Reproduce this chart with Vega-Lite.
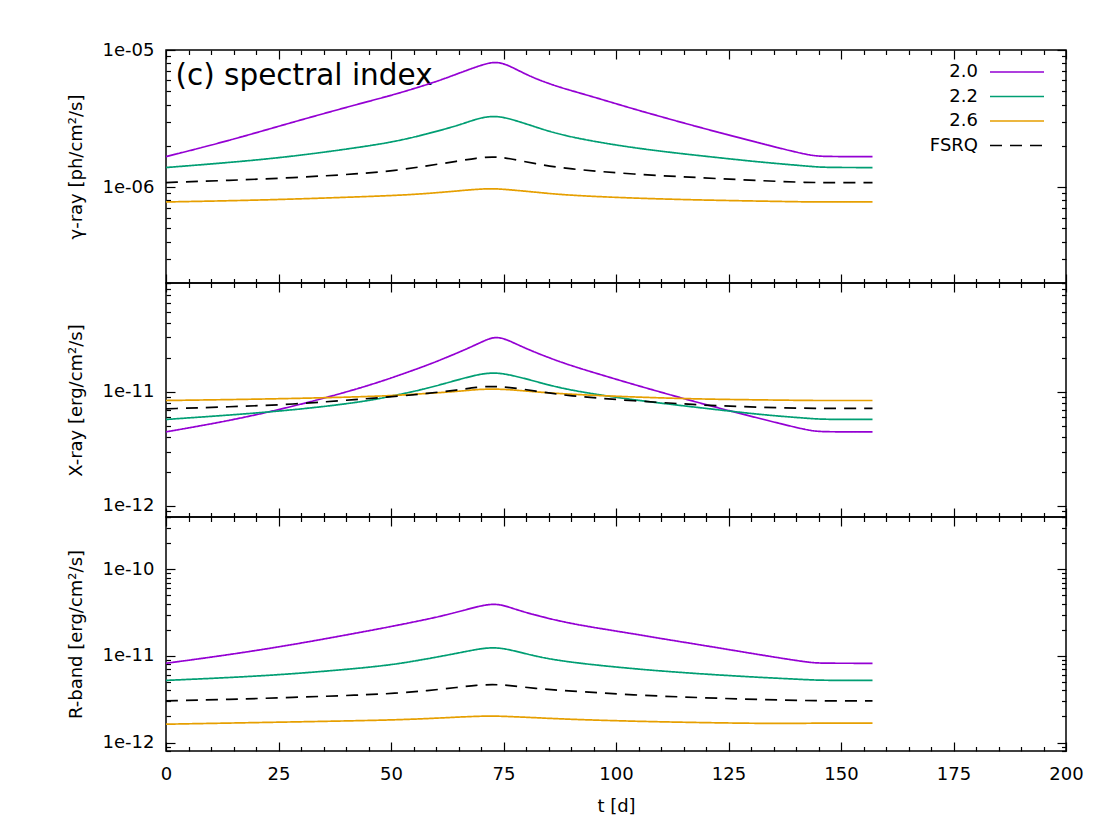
{
  "$schema": "https://vega.github.io/schema/vega-lite/v6.json",
  "background": "white",
  "padding": {"left": 66, "top": 40, "right": 10, "bottom": 10},
  "spacing": 0,
  "bounds": "flush",
  "config": {
    "font": "DejaVu Sans",
    "view": {"stroke": "black", "strokeWidth": 1.5},
    "axis": {
      "domain": false, "grid": false,
      "labelFont": "DejaVu Sans", "labelFontSize": 18, "labelColor": "black",
      "titleFont": "DejaVu Sans", "titleFontSize": 18, "titleFontWeight": "normal", "titleColor": "black",
      "tickColor": "black", "tickWidth": 1.2, "labelFlush": false, "labelOverlap": false
    },
    "legend": {
      "title": null, "orient": "none", "legendX": 841, "legendY": 12, "padding": 0,
      "labelFont": "DejaVu Sans", "labelFontSize": 18, "labelColor": "black",
      "labelAlign": "right", "labelOffset": -49, "symbolType": "M-3,0H3", "symbolSize": 324,
      "symbolStrokeWidth": 1.7, "rowPadding": 5.5
    }
  },
  "datasets": {
    "gamma": [
      {"t": 0, "s": "2.0", "v": 1.67e-6}, {"t": 14, "s": "2.0", "v": 2.18e-6}, {"t": 28, "s": "2.0", "v": 2.97e-6},
      {"t": 43, "s": "2.0", "v": 4.06e-6}, {"t": 51, "s": "2.0", "v": 4.75e-6}, {"t": 58.7, "s": "2.0", "v": 5.69e-6},
      {"t": 62, "s": "2.0", "v": 6.2e-6}, {"t": 66, "s": "2.0", "v": 6.95e-6}, {"t": 70, "s": "2.0", "v": 7.75e-6},
      {"t": 72.7, "s": "2.0", "v": 8.2e-6}, {"t": 75, "s": "2.0", "v": 8.0e-6}, {"t": 77.2, "s": "2.0", "v": 7.4e-6},
      {"t": 81, "s": "2.0", "v": 6.4e-6}, {"t": 85, "s": "2.0", "v": 5.7e-6}, {"t": 88.3, "s": "2.0", "v": 5.25e-6},
      {"t": 96, "s": "2.0", "v": 4.45e-6}, {"t": 104, "s": "2.0", "v": 3.7e-6}, {"t": 119, "s": "2.0", "v": 2.7e-6},
      {"t": 133, "s": "2.0", "v": 2.05e-6}, {"t": 143, "s": "2.0", "v": 1.7e-6}, {"t": 146, "s": "2.0", "v": 1.67e-6},
      {"t": 157, "s": "2.0", "v": 1.67e-6},
      {"t": 0, "s": "2.2", "v": 1.39e-6}, {"t": 14, "s": "2.2", "v": 1.51e-6}, {"t": 28, "s": "2.2", "v": 1.67e-6},
      {"t": 43, "s": "2.2", "v": 1.95e-6}, {"t": 51, "s": "2.2", "v": 2.15e-6}, {"t": 58, "s": "2.2", "v": 2.44e-6},
      {"t": 65, "s": "2.2", "v": 2.82e-6}, {"t": 69, "s": "2.2", "v": 3.15e-6}, {"t": 72.5, "s": "2.2", "v": 3.32e-6},
      {"t": 76, "s": "2.2", "v": 3.2e-6}, {"t": 82, "s": "2.2", "v": 2.75e-6}, {"t": 89, "s": "2.2", "v": 2.33e-6},
      {"t": 104, "s": "2.2", "v": 1.92e-6}, {"t": 119, "s": "2.2", "v": 1.69e-6}, {"t": 133, "s": "2.2", "v": 1.51e-6},
      {"t": 143, "s": "2.2", "v": 1.42e-6}, {"t": 146, "s": "2.2", "v": 1.39e-6}, {"t": 157, "s": "2.2", "v": 1.39e-6},
      {"t": 0, "s": "2.6", "v": 7.8e-7}, {"t": 14, "s": "2.6", "v": 7.95e-7}, {"t": 28, "s": "2.6", "v": 8.17e-7},
      {"t": 43, "s": "2.6", "v": 8.5e-7}, {"t": 51, "s": "2.6", "v": 8.7e-7}, {"t": 58, "s": "2.6", "v": 8.97e-7},
      {"t": 65, "s": "2.6", "v": 9.4e-7}, {"t": 69, "s": "2.6", "v": 9.65e-7}, {"t": 72.5, "s": "2.6", "v": 9.77e-7},
      {"t": 76, "s": "2.6", "v": 9.6e-7}, {"t": 82, "s": "2.6", "v": 9.2e-7}, {"t": 89, "s": "2.6", "v": 8.73e-7},
      {"t": 104, "s": "2.6", "v": 8.3e-7}, {"t": 119, "s": "2.6", "v": 8.05e-7}, {"t": 133, "s": "2.6", "v": 7.9e-7},
      {"t": 143, "s": "2.6", "v": 7.8e-7}, {"t": 146, "s": "2.6", "v": 7.8e-7}, {"t": 157, "s": "2.6", "v": 7.8e-7},
      {"t": 0, "s": "FSRQ", "v": 1.08e-6}, {"t": 14, "s": "FSRQ", "v": 1.12e-6}, {"t": 28, "s": "FSRQ", "v": 1.17e-6},
      {"t": 43, "s": "FSRQ", "v": 1.25e-6}, {"t": 51, "s": "FSRQ", "v": 1.32e-6}, {"t": 58, "s": "FSRQ", "v": 1.43e-6},
      {"t": 65, "s": "FSRQ", "v": 1.55e-6}, {"t": 69, "s": "FSRQ", "v": 1.63e-6}, {"t": 72.5, "s": "FSRQ", "v": 1.67e-6},
      {"t": 76, "s": "FSRQ", "v": 1.63e-6}, {"t": 82, "s": "FSRQ", "v": 1.48e-6}, {"t": 89, "s": "FSRQ", "v": 1.36e-6},
      {"t": 104, "s": "FSRQ", "v": 1.24e-6}, {"t": 119, "s": "FSRQ", "v": 1.17e-6}, {"t": 133, "s": "FSRQ", "v": 1.11e-6},
      {"t": 143, "s": "FSRQ", "v": 1.08e-6}, {"t": 146, "s": "FSRQ", "v": 1.08e-6}, {"t": 157, "s": "FSRQ", "v": 1.08e-6}
    ],
    "xray": [
      {"t": 0, "s": "2.0", "v": 4.46e-12}, {"t": 14, "s": "2.0", "v": 5.57e-12}, {"t": 28, "s": "2.0", "v": 7.38e-12},
      {"t": 43, "s": "2.0", "v": 1.07e-11}, {"t": 51, "s": "2.0", "v": 1.36e-11}, {"t": 58.7, "s": "2.0", "v": 1.75e-11},
      {"t": 62, "s": "2.0", "v": 1.98e-11}, {"t": 66, "s": "2.0", "v": 2.3e-11}, {"t": 70, "s": "2.0", "v": 2.72e-11},
      {"t": 72.7, "s": "2.0", "v": 3.04e-11}, {"t": 75, "s": "2.0", "v": 2.95e-11}, {"t": 77.2, "s": "2.0", "v": 2.7e-11},
      {"t": 81, "s": "2.0", "v": 2.3e-11}, {"t": 88.3, "s": "2.0", "v": 1.78e-11}, {"t": 95.7, "s": "2.0", "v": 1.45e-11},
      {"t": 103.3, "s": "2.0", "v": 1.18e-11}, {"t": 110.5, "s": "2.0", "v": 9.8e-12}, {"t": 118, "s": "2.0", "v": 8.1e-12},
      {"t": 126, "s": "2.0", "v": 6.7e-12}, {"t": 133, "s": "2.0", "v": 5.7e-12}, {"t": 143, "s": "2.0", "v": 4.55e-12},
      {"t": 146, "s": "2.0", "v": 4.46e-12}, {"t": 157, "s": "2.0", "v": 4.46e-12},
      {"t": 0, "s": "2.2", "v": 5.73e-12}, {"t": 14, "s": "2.2", "v": 6.25e-12}, {"t": 28, "s": "2.2", "v": 6.91e-12},
      {"t": 43, "s": "2.2", "v": 8.07e-12}, {"t": 51, "s": "2.2", "v": 9.3e-12}, {"t": 58, "s": "2.2", "v": 1.07e-11},
      {"t": 65, "s": "2.2", "v": 1.28e-11}, {"t": 69, "s": "2.2", "v": 1.41e-11}, {"t": 72.5, "s": "2.2", "v": 1.48e-11},
      {"t": 76, "s": "2.2", "v": 1.43e-11}, {"t": 82, "s": "2.2", "v": 1.24e-11}, {"t": 89, "s": "2.2", "v": 1.04e-11},
      {"t": 104, "s": "2.2", "v": 8.46e-12}, {"t": 119, "s": "2.2", "v": 7.24e-12}, {"t": 133, "s": "2.2", "v": 6.25e-12},
      {"t": 143, "s": "2.2", "v": 5.85e-12}, {"t": 146, "s": "2.2", "v": 5.73e-12}, {"t": 157, "s": "2.2", "v": 5.73e-12},
      {"t": 0, "s": "2.6", "v": 8.4e-12}, {"t": 14, "s": "2.6", "v": 8.55e-12}, {"t": 28, "s": "2.6", "v": 8.74e-12},
      {"t": 43, "s": "2.6", "v": 9.04e-12}, {"t": 51, "s": "2.6", "v": 9.3e-12}, {"t": 58, "s": "2.6", "v": 9.68e-12},
      {"t": 65, "s": "2.6", "v": 1.01e-11}, {"t": 69, "s": "2.6", "v": 1.05e-11}, {"t": 72.5, "s": "2.6", "v": 1.06e-11},
      {"t": 76, "s": "2.6", "v": 1.05e-11}, {"t": 82, "s": "2.6", "v": 1.0e-11}, {"t": 89, "s": "2.6", "v": 9.55e-12},
      {"t": 104, "s": "2.6", "v": 9.0e-12}, {"t": 119, "s": "2.6", "v": 8.63e-12}, {"t": 133, "s": "2.6", "v": 8.5e-12},
      {"t": 143, "s": "2.6", "v": 8.4e-12}, {"t": 146, "s": "2.6", "v": 8.4e-12}, {"t": 157, "s": "2.6", "v": 8.4e-12},
      {"t": 0, "s": "FSRQ", "v": 7.1e-12}, {"t": 14, "s": "FSRQ", "v": 7.4e-12}, {"t": 28, "s": "FSRQ", "v": 7.75e-12},
      {"t": 43, "s": "FSRQ", "v": 8.63e-12}, {"t": 51, "s": "FSRQ", "v": 9.1e-12}, {"t": 58, "s": "FSRQ", "v": 9.68e-12},
      {"t": 65, "s": "FSRQ", "v": 1.04e-11}, {"t": 69, "s": "FSRQ", "v": 1.1e-11}, {"t": 72.5, "s": "FSRQ", "v": 1.12e-11},
      {"t": 76, "s": "FSRQ", "v": 1.1e-11}, {"t": 82, "s": "FSRQ", "v": 1.02e-11}, {"t": 89, "s": "FSRQ", "v": 9.23e-12},
      {"t": 104, "s": "FSRQ", "v": 8.34e-12}, {"t": 119, "s": "FSRQ", "v": 7.64e-12}, {"t": 133, "s": "FSRQ", "v": 7.3e-12},
      {"t": 143, "s": "FSRQ", "v": 7.17e-12}, {"t": 146, "s": "FSRQ", "v": 7.17e-12}, {"t": 157, "s": "FSRQ", "v": 7.17e-12}
    ],
    "rband": [
      {"t": 0, "s": "2.0", "v": 8.22e-12}, {"t": 14, "s": "2.0", "v": 1.03e-11}, {"t": 28, "s": "2.0", "v": 1.34e-11},
      {"t": 43, "s": "2.0", "v": 1.86e-11}, {"t": 51, "s": "2.0", "v": 2.23e-11}, {"t": 58.7, "s": "2.0", "v": 2.69e-11},
      {"t": 62, "s": "2.0", "v": 2.95e-11}, {"t": 66, "s": "2.0", "v": 3.33e-11}, {"t": 70, "s": "2.0", "v": 3.8e-11},
      {"t": 72.7, "s": "2.0", "v": 3.98e-11}, {"t": 75, "s": "2.0", "v": 3.84e-11}, {"t": 77.2, "s": "2.0", "v": 3.51e-11},
      {"t": 81, "s": "2.0", "v": 3.05e-11}, {"t": 88.3, "s": "2.0", "v": 2.45e-11}, {"t": 95.7, "s": "2.0", "v": 2.1e-11},
      {"t": 103.5, "s": "2.0", "v": 1.81e-11}, {"t": 110.5, "s": "2.0", "v": 1.57e-11}, {"t": 118, "s": "2.0", "v": 1.36e-11},
      {"t": 126, "s": "2.0", "v": 1.16e-11}, {"t": 133, "s": "2.0", "v": 1.01e-11}, {"t": 143, "s": "2.0", "v": 8.35e-12},
      {"t": 146, "s": "2.0", "v": 8.22e-12}, {"t": 157, "s": "2.0", "v": 8.22e-12},
      {"t": 0, "s": "2.2", "v": 5.22e-12}, {"t": 14, "s": "2.2", "v": 5.61e-12}, {"t": 28, "s": "2.2", "v": 6.18e-12},
      {"t": 43, "s": "2.2", "v": 7.19e-12}, {"t": 51, "s": "2.2", "v": 8.0e-12}, {"t": 58, "s": "2.2", "v": 9.23e-12},
      {"t": 65, "s": "2.2", "v": 1.08e-11}, {"t": 69, "s": "2.2", "v": 1.19e-11}, {"t": 72.5, "s": "2.2", "v": 1.26e-11},
      {"t": 76, "s": "2.2", "v": 1.2e-11}, {"t": 82, "s": "2.2", "v": 9.9e-12}, {"t": 89, "s": "2.2", "v": 8.5e-12},
      {"t": 104, "s": "2.2", "v": 7.06e-12}, {"t": 119, "s": "2.2", "v": 6.18e-12}, {"t": 133, "s": "2.2", "v": 5.61e-12},
      {"t": 143, "s": "2.2", "v": 5.3e-12}, {"t": 146, "s": "2.2", "v": 5.22e-12}, {"t": 157, "s": "2.2", "v": 5.22e-12},
      {"t": 0, "s": "2.6", "v": 1.63e-12}, {"t": 14, "s": "2.6", "v": 1.68e-12}, {"t": 28, "s": "2.6", "v": 1.73e-12},
      {"t": 43, "s": "2.6", "v": 1.79e-12}, {"t": 51, "s": "2.6", "v": 1.83e-12}, {"t": 58, "s": "2.6", "v": 1.89e-12},
      {"t": 65, "s": "2.6", "v": 1.97e-12}, {"t": 69, "s": "2.6", "v": 2.01e-12}, {"t": 72.5, "s": "2.6", "v": 2.03e-12},
      {"t": 76, "s": "2.6", "v": 2.0e-12}, {"t": 82, "s": "2.6", "v": 1.94e-12}, {"t": 89, "s": "2.6", "v": 1.86e-12},
      {"t": 104, "s": "2.6", "v": 1.76e-12}, {"t": 119, "s": "2.6", "v": 1.7e-12}, {"t": 133, "s": "2.6", "v": 1.66e-12},
      {"t": 143, "s": "2.6", "v": 1.67e-12}, {"t": 146, "s": "2.6", "v": 1.68e-12}, {"t": 157, "s": "2.6", "v": 1.68e-12},
      {"t": 0, "s": "FSRQ", "v": 3.03e-12}, {"t": 14, "s": "FSRQ", "v": 3.15e-12}, {"t": 28, "s": "FSRQ", "v": 3.32e-12},
      {"t": 43, "s": "FSRQ", "v": 3.53e-12}, {"t": 51, "s": "FSRQ", "v": 3.7e-12}, {"t": 58, "s": "FSRQ", "v": 3.96e-12},
      {"t": 65, "s": "FSRQ", "v": 4.35e-12}, {"t": 69, "s": "FSRQ", "v": 4.6e-12}, {"t": 72.5, "s": "FSRQ", "v": 4.69e-12},
      {"t": 76, "s": "FSRQ", "v": 4.6e-12}, {"t": 82, "s": "FSRQ", "v": 4.2e-12}, {"t": 89, "s": "FSRQ", "v": 3.96e-12},
      {"t": 104, "s": "FSRQ", "v": 3.53e-12}, {"t": 119, "s": "FSRQ", "v": 3.29e-12}, {"t": 133, "s": "FSRQ", "v": 3.12e-12},
      {"t": 143, "s": "FSRQ", "v": 3.05e-12}, {"t": 146, "s": "FSRQ", "v": 3.03e-12}, {"t": 157, "s": "FSRQ", "v": 3.03e-12}
    ]
  },
  "vconcat": [
    {
      "width": 900, "height": 233,
      "data": {"name": "gamma"},
      "layer": [
        {
          "mark": {"type": "line", "strokeWidth": 1.7, "interpolate": "basis"},
          "encoding": {
            "x": {"field": "t", "type": "quantitative", "scale": {"domain": [0, 200], "nice": false},
              "axis": {"orient": "bottom", "values": [0,5,10,15,20,25,30,35,40,45,50,55,60,65,70,75,80,85,90,95,100,105,110,115,120,125,130,135,140,145,150,155,160,165,170,175,180,185,190,195,200], "labels": false, "title": null,
                "tickSize": {"condition": {"test": "datum.value % 25 === 0", "value": -9}, "value": -4.5}}},
            "y": {"field": "v", "type": "quantitative", "scale": {"type": "log", "domain": [2e-7, 1e-5], "nice": false},
              "axis": {"orient": "left", "title": "γ-ray [ph/cm²/s]", "titlePadding": 17, "labelPadding": 21,
                "values": [2e-7,3e-7,4e-7,5e-7,6e-7,7e-7,8e-7,9e-7,1e-6,2e-6,3e-6,4e-6,5e-6,6e-6,7e-6,8e-6,9e-6,1e-5],
                "labelExpr": "datum.value === 1e-5 ? '1e-05' : datum.value === 1e-6 ? '1e-06' : ''",
                "tickSize": {"condition": {"test": "datum.value === 1e-6 || datum.value === 1e-5", "value": -9}, "value": -4.5}}},
            "color": {"field": "s", "type": "nominal", "scale": {"domain": ["2.0", "2.2", "2.6", "FSRQ"], "range": ["#9400d3", "#009e73", "#e69f00", "#000000"]}},
            "strokeDash": {"field": "s", "type": "nominal", "scale": {"domain": ["2.0", "2.2", "2.6", "FSRQ"], "range": [[1, 0], [1, 0], [1, 0], [12, 8]]}}
          }
        },
        {
          "mark": {"type": "point", "opacity": 0},
          "encoding": {
            "x": {"field": "t", "type": "quantitative", "scale": {"domain": [0, 200], "nice": false},
              "axis": {"orient": "top", "values": [0,5,10,15,20,25,30,35,40,45,50,55,60,65,70,75,80,85,90,95,100,105,110,115,120,125,130,135,140,145,150,155,160,165,170,175,180,185,190,195,200], "labels": false,
                "title": "(c) spectral index", "titleAnchor": "start", "titleAlign": "left", "titleBaseline": "alphabetic",
                "titleX": 9, "titleY": 34, "titleFontSize": 29.5,
                "tickSize": {"condition": {"test": "datum.value % 25 === 0", "value": -9}, "value": -4.5}}},
            "y": {"field": "v", "type": "quantitative", "scale": {"type": "log", "domain": [2e-7, 1e-5], "nice": false},
              "axis": {"orient": "right", "labels": false, "title": null,
                "values": [2e-7,3e-7,4e-7,5e-7,6e-7,7e-7,8e-7,9e-7,1e-6,2e-6,3e-6,4e-6,5e-6,6e-6,7e-6,8e-6,9e-6,1e-5],
                "tickSize": {"condition": {"test": "datum.value === 1e-6 || datum.value === 1e-5", "value": -9}, "value": -4.5}}}
          }
        }
      ],
      "resolve": {"axis": {"x": "independent", "y": "independent"}}
    },
    {
      "width": 900, "height": 234,
      "data": {"name": "xray"},
      "layer": [
        {
          "mark": {"type": "line", "strokeWidth": 1.7, "interpolate": "basis"},
          "encoding": {
            "x": {"field": "t", "type": "quantitative", "scale": {"domain": [0, 200], "nice": false},
              "axis": {"orient": "bottom", "values": [0,5,10,15,20,25,30,35,40,45,50,55,60,65,70,75,80,85,90,95,100,105,110,115,120,125,130,135,140,145,150,155,160,165,170,175,180,185,190,195,200], "labels": false, "title": null,
                "tickSize": {"condition": {"test": "datum.value % 25 === 0", "value": -9}, "value": -4.5}}},
            "y": {"field": "v", "type": "quantitative", "scale": {"type": "log", "domain": [8e-13, 9e-11], "nice": false},
              "axis": {"orient": "left", "title": "X-ray [erg/cm²/s]", "titlePadding": 17, "labelPadding": 21,
                "values": [8e-13,9e-13,1e-12,2e-12,3e-12,4e-12,5e-12,6e-12,7e-12,8e-12,9e-12,1e-11,2e-11,3e-11,4e-11,5e-11,6e-11,7e-11,8e-11,9e-11],
                "labelExpr": "datum.value === 1e-11 ? '1e-11' : datum.value === 1e-12 ? '1e-12' : ''",
                "tickSize": {"condition": {"test": "datum.value === 1e-11 || datum.value === 1e-12", "value": -9}, "value": -4.5}}},
            "color": {"field": "s", "type": "nominal", "legend": null, "scale": {"domain": ["2.0", "2.2", "2.6", "FSRQ"], "range": ["#9400d3", "#009e73", "#e69f00", "#000000"]}},
            "strokeDash": {"field": "s", "type": "nominal", "legend": null, "scale": {"domain": ["2.0", "2.2", "2.6", "FSRQ"], "range": [[1, 0], [1, 0], [1, 0], [12, 8]]}}
          }
        },
        {
          "mark": {"type": "point", "opacity": 0},
          "encoding": {
            "x": {"field": "t", "type": "quantitative", "scale": {"domain": [0, 200], "nice": false},
              "axis": {"orient": "top", "values": [0,5,10,15,20,25,30,35,40,45,50,55,60,65,70,75,80,85,90,95,100,105,110,115,120,125,130,135,140,145,150,155,160,165,170,175,180,185,190,195,200], "labels": false, "title": null,
                "tickSize": {"condition": {"test": "datum.value % 25 === 0", "value": -9}, "value": -4.5}}},
            "y": {"field": "v", "type": "quantitative", "scale": {"type": "log", "domain": [8e-13, 9e-11], "nice": false},
              "axis": {"orient": "right", "labels": false, "title": null,
                "values": [8e-13,9e-13,1e-12,2e-12,3e-12,4e-12,5e-12,6e-12,7e-12,8e-12,9e-12,1e-11,2e-11,3e-11,4e-11,5e-11,6e-11,7e-11,8e-11,9e-11],
                "tickSize": {"condition": {"test": "datum.value === 1e-11 || datum.value === 1e-12", "value": -9}, "value": -4.5}}}
          }
        }
      ],
      "resolve": {"axis": {"x": "independent", "y": "independent"}}
    },
    {
      "width": 900, "height": 234,
      "data": {"name": "rband"},
      "layer": [
        {
          "mark": {"type": "line", "strokeWidth": 1.7, "interpolate": "basis"},
          "encoding": {
            "x": {"field": "t", "type": "quantitative", "scale": {"domain": [0, 200], "nice": false},
              "axis": {"orient": "bottom", "values": [0,5,10,15,20,25,30,35,40,45,50,55,60,65,70,75,80,85,90,95,100,105,110,115,120,125,130,135,140,145,150,155,160,165,170,175,180,185,190,195,200], "title": "t [d]", "titlePadding": 10, "labelPadding": 23,
                "labelExpr": "datum.value % 25 === 0 ? datum.label : ''",
                "tickSize": {"condition": {"test": "datum.value % 25 === 0", "value": -9}, "value": -4.5}}},
            "y": {"field": "v", "type": "quantitative", "scale": {"type": "log", "domain": [8e-13, 4e-10], "nice": false},
              "axis": {"orient": "left", "title": "R-band [erg/cm²/s]", "titlePadding": 17, "labelPadding": 21,
                "values": [8e-13,9e-13,1e-12,2e-12,3e-12,4e-12,5e-12,6e-12,7e-12,8e-12,9e-12,1e-11,2e-11,3e-11,4e-11,5e-11,6e-11,7e-11,8e-11,9e-11,1e-10,2e-10,3e-10,4e-10],
                "labelExpr": "datum.value === 1e-10 ? '1e-10' : datum.value === 1e-11 ? '1e-11' : datum.value === 1e-12 ? '1e-12' : ''",
                "tickSize": {"condition": {"test": "datum.value === 1e-10 || datum.value === 1e-11 || datum.value === 1e-12", "value": -9}, "value": -4.5}}},
            "color": {"field": "s", "type": "nominal", "legend": null, "scale": {"domain": ["2.0", "2.2", "2.6", "FSRQ"], "range": ["#9400d3", "#009e73", "#e69f00", "#000000"]}},
            "strokeDash": {"field": "s", "type": "nominal", "legend": null, "scale": {"domain": ["2.0", "2.2", "2.6", "FSRQ"], "range": [[1, 0], [1, 0], [1, 0], [12, 8]]}}
          }
        },
        {
          "mark": {"type": "point", "opacity": 0},
          "encoding": {
            "x": {"field": "t", "type": "quantitative", "scale": {"domain": [0, 200], "nice": false},
              "axis": {"orient": "top", "values": [0,5,10,15,20,25,30,35,40,45,50,55,60,65,70,75,80,85,90,95,100,105,110,115,120,125,130,135,140,145,150,155,160,165,170,175,180,185,190,195,200], "labels": false, "title": null,
                "tickSize": {"condition": {"test": "datum.value % 25 === 0", "value": -9}, "value": -4.5}}},
            "y": {"field": "v", "type": "quantitative", "scale": {"type": "log", "domain": [8e-13, 4e-10], "nice": false},
              "axis": {"orient": "right", "labels": false, "title": null,
                "values": [8e-13,9e-13,1e-12,2e-12,3e-12,4e-12,5e-12,6e-12,7e-12,8e-12,9e-12,1e-11,2e-11,3e-11,4e-11,5e-11,6e-11,7e-11,8e-11,9e-11,1e-10,2e-10,3e-10,4e-10],
                "tickSize": {"condition": {"test": "datum.value === 1e-10 || datum.value === 1e-11 || datum.value === 1e-12", "value": -9}, "value": -4.5}}}
          }
        }
      ],
      "resolve": {"axis": {"x": "independent", "y": "independent"}}
    }
  ],
  "resolve": {
    "scale": {"x": "independent", "y": "independent", "color": "independent", "strokeDash": "independent"},
    "legend": {"color": "independent", "strokeDash": "independent"}
  }
}
